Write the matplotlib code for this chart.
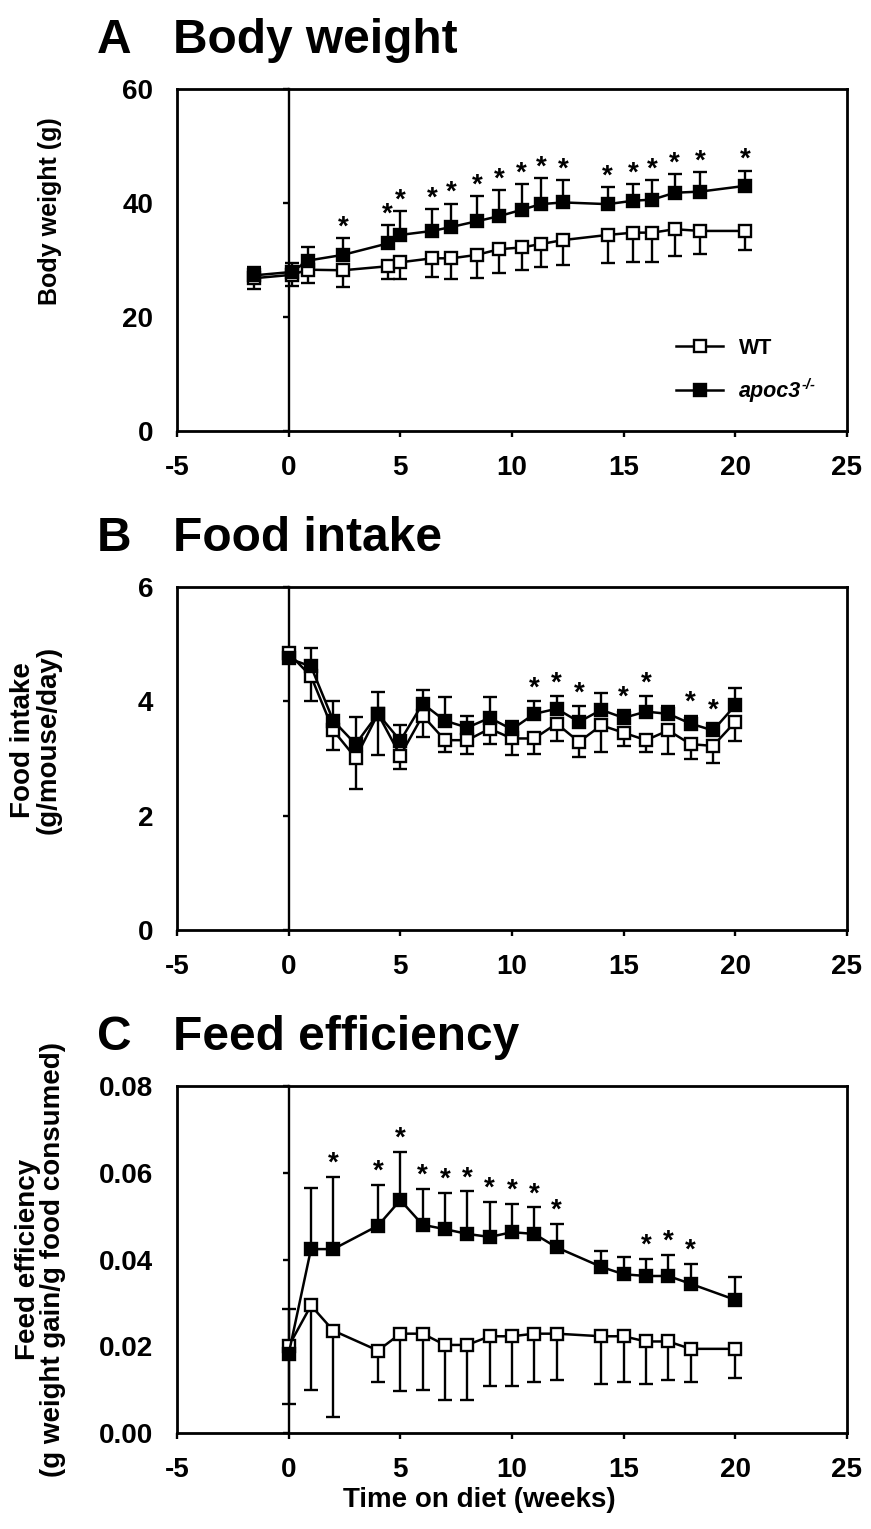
import numpy as np
import matplotlib
matplotlib.use("Agg")
import matplotlib.pyplot as plt

plt.rcParams['font.family'] = ['Liberation Sans', 'DejaVu Sans']
plt.rcParams['font.weight'] = 'bold'

# A - body weight (g), x in weeks
weeks_a = [-1.57, 0.14, 0.86, 2.43, 4.43, 5.0, 6.43, 7.29, 8.43, 9.43, 10.43,
           11.29, 12.29, 14.29, 15.43, 16.29, 17.29, 18.43, 20.43]
bw_wt = [26.8, 27.4, 28.3, 28.2, 28.9, 29.6, 30.3, 30.3, 30.9, 31.9, 32.2,
         32.8, 33.5, 34.4, 34.8, 34.8, 35.4, 35.1, 35.1]
bw_wt_err = [1.9, 1.9, 2.4, 2.9, 2.3, 3.0, 3.3, 3.7, 4.1, 4.2, 4.0,
             4.0, 4.3, 5.0, 5.1, 5.1, 4.7, 4.0, 3.3]
bw_ko = [27.3, 27.9, 29.9, 30.9, 32.9, 34.4, 35.1, 35.8, 36.8, 37.7, 38.8,
         39.8, 40.1, 39.8, 40.4, 40.6, 41.8, 42.0, 43.0]
bw_ko_err = [1.5, 1.6, 2.3, 3.0, 3.3, 4.2, 3.9, 4.1, 4.4, 4.5, 4.5,
             4.6, 4.0, 3.0, 3.0, 3.5, 3.3, 3.4, 2.7]
stars_a = [2.43, 4.43, 5.0, 6.43, 7.29, 8.43, 9.43, 10.43, 11.29, 12.29,
           14.29, 15.43, 16.29, 17.29, 18.43, 20.43]

# B - food intake (g/mouse/day)
weeks_b = list(range(0, 21))
fi_wt = [4.84, 4.44, 3.49, 3.01, 3.78, 3.05, 3.75, 3.32, 3.32, 3.52, 3.35,
         3.35, 3.61, 3.29, 3.58, 3.45, 3.32, 3.49, 3.25, 3.22, 3.64]
fi_wt_err = [0.12, 0.44, 0.34, 0.54, 0.72, 0.23, 0.38, 0.20, 0.24, 0.27, 0.29,
             0.27, 0.31, 0.27, 0.46, 0.24, 0.20, 0.41, 0.26, 0.30, 0.34]
fi_ko = [4.75, 4.61, 3.66, 3.25, 3.78, 3.31, 3.96, 3.66, 3.54, 3.71, 3.51,
         3.78, 3.87, 3.64, 3.85, 3.71, 3.82, 3.78, 3.61, 3.49, 3.93]
fi_ko_err = [0.17, 0.32, 0.34, 0.47, 0.38, 0.28, 0.23, 0.41, 0.21, 0.36, 0.14,
             0.23, 0.22, 0.27, 0.29, 0.14, 0.27, 0.13, 0.14, 0.13, 0.31]
stars_b = [11, 12, 13, 15, 16, 18, 19]

# C - feed efficiency
weeks_c = [0, 1, 2, 4, 5, 6, 7, 8, 9, 10, 11, 12, 14, 15, 16, 17, 18, 20]
fe_wt = [0.0200, 0.0294, 0.0236, 0.0190, 0.0229, 0.0229, 0.0203, 0.0203, 0.0223,
         0.0223, 0.0229, 0.0229, 0.0223, 0.0223, 0.0211, 0.0211, 0.0194, 0.0194]
fe_wt_err = [0.0134, 0.0194, 0.0199, 0.0072, 0.0133, 0.0129, 0.0127, 0.0127, 0.0114,
             0.0114, 0.0111, 0.0107, 0.0110, 0.0105, 0.0098, 0.0089, 0.0076, 0.0068]
fe_ko = [0.0182, 0.0424, 0.0424, 0.0478, 0.0537, 0.0480, 0.0470, 0.0459, 0.0452,
         0.0463, 0.0459, 0.0428, 0.0383, 0.0366, 0.0362, 0.0362, 0.0344, 0.0307]
fe_ko_err = [0.0103, 0.0140, 0.0166, 0.0093, 0.0112, 0.0082, 0.0083, 0.0098, 0.0080,
             0.0065, 0.0061, 0.0054, 0.0036, 0.0039, 0.0040, 0.0048, 0.0045, 0.0053]
stars_c = [2, 4, 5, 6, 7, 8, 9, 10, 11, 12, 16, 17, 18]

xticks = [-5, 0, 5, 10, 15, 20, 25]

fig = plt.figure(figsize=(8.71, 15.29), dpi=100)
L, W = 0.2032, 0.7692


def panel(rect, x, wt, wt_err, ko, ko_err, stars, yticks, ylabels, star_off):
    ax = fig.add_axes(rect)
    x = np.asarray(x)
    wt_err = np.asarray(wt_err)
    ko_err = np.asarray(ko_err)
    zero = np.zeros(len(x))
    ax.errorbar(x, wt, yerr=[wt_err, zero], fmt='none', ecolor='black',
                elinewidth=1.7, capsize=5, capthick=1.7, zorder=2)
    ax.errorbar(x, ko, yerr=[zero, ko_err], fmt='none', ecolor='black',
                elinewidth=1.7, capsize=5, capthick=1.7, zorder=2)
    ax.plot(x, wt, color='black', lw=1.8, marker='s', ms=8.5, mfc='white',
            mec='black', mew=1.7, label='WT', zorder=3)
    ax.plot(x, ko, color='black', lw=1.8, marker='s', ms=8.5, mfc='black',
            mec='black', mew=1.7, label='apoc3', zorder=4)
    top = np.asarray(ko) + ko_err
    for xs in stars:
        i = int(np.argmin(np.abs(x - xs)))
        ax.annotate('*', (x[i], top[i]), xytext=(0, star_off),
                    textcoords='offset points', ha='center', va='baseline',
                    fontsize=20, fontweight='bold')
    ax.set_xlim(-5, 25)
    ax.set_ylim(yticks[0], yticks[-1])
    ax.set_xticks(xticks)
    ax.set_xticklabels([str(t) for t in xticks])
    ax.set_yticks(yticks)
    ax.set_yticklabels(ylabels)
    ax.tick_params(axis='y', length=0, pad=17, labelsize=20)
    ax.tick_params(axis='x', direction='out', length=4, width=1.7, pad=13,
                   labelsize=20, top=False)
    for sp in ax.spines.values():
        sp.set_linewidth(2.0)
    # y axis line at x = 0
    sec = ax.secondary_yaxis(5 / 30)
    sec.set_yticks(yticks)
    sec.tick_params(axis='y', direction='out', length=4, width=1.7,
                    labelleft=False)
    sec.spines['left'].set_linewidth(1.7)
    return ax


axA = panel([L, 0.7181, W, 0.2237], weeks_a, bw_wt, bw_wt_err, bw_ko, bw_ko_err,
            stars_a, [0, 20, 40, 60], ['0', '20', '40', '60'], 2.5)
axB = panel([L, 0.3918, W, 0.2243], weeks_b, fi_wt, fi_wt_err, fi_ko, fi_ko_err,
            stars_b, [0, 2, 4, 6], ['0', '2', '4', '6'], 4)
axC = panel([L, 0.0628, W, 0.2269], weeks_c, fe_wt, fe_wt_err, fe_ko, fe_ko_err,
            stars_c, [0, 0.02, 0.04, 0.06, 0.08],
            ['0.00', '0.02', '0.04', '0.06', '0.08'], 4.5)

leg = axA.legend(loc='center left', bbox_to_anchor=(0.745, 0.178), frameon=False,
                 fontsize=15.5, handlelength=2.2, handletextpad=0.7,
                 labelspacing=1.05, borderpad=0, borderaxespad=0)
ko_text = leg.get_texts()[1]
ko_text.set_fontstyle('italic')

# panel titles
for y, letter, name in [(0.9653, 'A', 'Body weight'),
                        (0.6396, 'B', 'Food intake'),
                        (0.3133, 'C', 'Feed efficiency')]:
    fig.text(0.1114, y, letter, fontsize=34.5, fontweight='bold', va='baseline')
    fig.text(0.1986, y, name, fontsize=34.5, fontweight='bold', va='baseline')

# axis labels
fig.text(0.0574, 0.862, 'Body weight (g)', rotation=90, ha='center',
         va='center', fontsize=18, fontweight='bold')
fig.text(0.0413, 0.516, 'Food intake\n(g/mouse/day)', rotation=90, ha='center',
         va='center', fontsize=20, fontweight='bold', linespacing=0.95,
         multialignment='center')
fig.text(0.046, 0.176, 'Feed efficiency\n(g weight gain/g food consumed)',
         rotation=90, ha='center', va='center', fontsize=20, fontweight='bold',
         linespacing=0.95, multialignment='center')
fig.text(0.55, 0.019, 'Time on diet (weeks)', ha='center', va='center',
         fontsize=20, fontweight='bold')

# superscript -/- after the apoc3 legend label
fig.canvas.draw()
bb = ko_text.get_window_extent()
fw, fh = fig.get_size_inches() * fig.dpi
fig.text(bb.x1 / fw + 0.001, (bb.y1 - 4) / fh, '-/-', fontsize=10.5,
         fontweight='bold', fontstyle='italic', va='center', ha='left')

fig.savefig('out.png', dpi=100)
